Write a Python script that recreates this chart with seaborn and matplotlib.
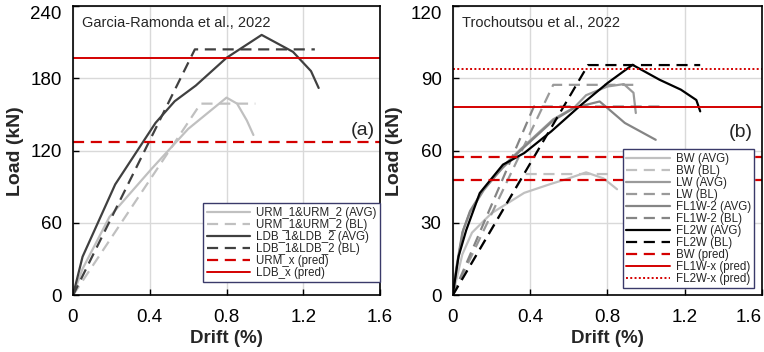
import matplotlib
matplotlib.use("Agg")
import matplotlib.pyplot as plt
import seaborn as sns
import pandas as pd

sns.set_style("white")
plt.rcParams['font.family'] = ['Liberation Sans', 'DejaVu Sans']

# ---- Panel (a) data: Garcia-Ramonda et al., 2022 ----
urm_avg_x = [0, 0.05, 0.19, 0.41, 0.60, 0.80, 0.855, 0.906, 0.94]
urm_avg_y = [0, 22, 65, 105, 138, 164, 159, 145, 133]
urm_bl_x = [0, 0.665, 0.95]
urm_bl_y = [0, 159, 159]
ldb_avg_x = [0, 0.05, 0.22, 0.43, 0.53, 0.64, 0.80, 0.983, 1.146, 1.24, 1.28]
ldb_avg_y = [0, 32, 92, 143, 161, 174, 197, 216, 202, 186, 172]
ldb_bl_x = [0, 0.635, 1.26]
ldb_bl_y = [0, 204, 204]
urm_pred = 127
ldb_pred = 197

# ---- Panel (b) data: Trochoutsou et al., 2022 ----
bw_avg_x = [0, 0.05, 0.10, 0.20, 0.30, 0.37, 0.50, 0.60, 0.69, 0.78, 0.85]
bw_avg_y = [0, 17, 26, 34, 39, 42.5, 46, 48.5, 51, 48.5, 44]
bw_bl_x = [0, 0.37, 0.82]
bw_bl_y = [0, 50.3, 50.3]
lw_avg_x = [0, 0.02, 0.054, 0.09, 0.16, 0.26, 0.35, 0.52, 0.63, 0.69, 0.80, 0.885, 0.935, 0.947]
lw_avg_y = [0, 11, 27, 34.5, 43.5, 53.5, 60.5, 73, 78, 83, 86.6, 87.6, 84, 75.6]
lw_bl_x = [0, 0.52, 0.95]
lw_bl_y = [0, 87.3, 87.3]
fl1_avg_x = [0, 0.02, 0.05, 0.09, 0.16, 0.26, 0.35, 0.52, 0.63, 0.76, 0.80, 0.89, 1.05]
fl1_avg_y = [0, 12, 26, 35, 44, 53, 60, 72.5, 77.8, 80.4, 77.7, 71.5, 64.5]
fl1_bl_x = [0, 0.42, 1.07]
fl1_bl_y = [0, 78.3, 78.3]
fl2_avg_x = [0, 0.03, 0.07, 0.14, 0.26, 0.37, 0.51, 0.66, 0.80, 0.93, 1.07, 1.18, 1.26, 1.28]
fl2_avg_y = [0, 16, 27, 42.4, 54.2, 59, 68, 78.7, 88, 95.6, 89.4, 85.3, 81, 76.3]
fl2_bl_x = [0, 0.70, 1.28]
fl2_bl_y = [0, 95.5, 95.5]
bw_pred_1 = 57.2
bw_pred_2 = 48.0
fl1w_pred = 78.1
fl2w_pred = 93.8

x_ticks = [0, 0.4, 0.8, 1.2, 1.6]
x_tick_labels = ["0", "0.4", "0.8", "1.2", "1.6"]
y_ticks_a = [0, 60, 120, 180, 240]
y_ticks_b = [0, 30, 60, 90, 120]

RED = "#d40000"

fig = plt.figure(figsize=(7.64, 3.52), dpi=100)
ax1 = fig.add_axes([0.0955, 0.161, 0.402, 0.822])
ax2 = fig.add_axes([0.5925, 0.161, 0.405, 0.822])


def draw(ax, x, y, color, ls, label, lw=1.6):
    df = pd.DataFrame({"x": x, "y": y})
    sns.lineplot(data=df, x="x", y="y", ax=ax, color=color, linestyle=ls,
                 linewidth=lw, label=label, sort=False, estimator=None)


# Panel (a)
draw(ax1, urm_avg_x, urm_avg_y, "#c0c0c0", "-", "URM_1&URM_2 (AVG)")
draw(ax1, urm_bl_x, urm_bl_y, "#c0c0c0", (0, (5, 3)), "URM_1&URM_2 (BL)")
draw(ax1, ldb_avg_x, ldb_avg_y, "#404040", "-", "LDB_1&LDB_2 (AVG)")
draw(ax1, ldb_bl_x, ldb_bl_y, "#404040", (0, (5, 3)), "LDB_1&LDB_2 (BL)")
ax1.axhline(urm_pred, color=RED, ls=(0, (5, 3)), lw=1.6, label="URM_x (pred)")
ax1.axhline(ldb_pred, color=RED, ls="-", lw=1.4, label="LDB_x (pred)")

# Panel (b)
draw(ax2, bw_avg_x, bw_avg_y, "#c0c0c0", "-", "BW (AVG)")
draw(ax2, bw_bl_x, bw_bl_y, "#c0c0c0", (0, (5, 3)), "BW (BL)")
draw(ax2, lw_avg_x, lw_avg_y, "#9a9a9a", "-", "LW (AVG)")
draw(ax2, lw_bl_x, lw_bl_y, "#9a9a9a", (0, (5, 3)), "LW (BL)")
draw(ax2, fl1_avg_x, fl1_avg_y, "#858585", "-", "FL1W-2 (AVG)")
draw(ax2, fl1_bl_x, fl1_bl_y, "#858585", (0, (5, 3)), "FL1W-2 (BL)")
draw(ax2, fl2_avg_x, fl2_avg_y, "#000000", "-", "FL2W (AVG)")
draw(ax2, fl2_bl_x, fl2_bl_y, "#000000", (0, (5, 3)), "FL2W (BL)")
ax2.axhline(bw_pred_1, color=RED, ls=(0, (5, 3)), lw=1.6, label="BW (pred)")
ax2.axhline(bw_pred_2, color=RED, ls=(0, (5, 3)), lw=1.6)
ax2.axhline(fl1w_pred, color=RED, ls="-", lw=1.4, label="FL1W-x (pred)")
ax2.axhline(fl2w_pred, color=RED, ls=(0, (1, 1.2)), lw=1.4, label="FL2W-x (pred)")

for ax, ymax, yt in [(ax1, 240, y_ticks_a), (ax2, 120, y_ticks_b)]:
    ax.set_xlim(0, 1.6)
    ax.set_ylim(0, ymax)
    ax.set_xticks(x_ticks)
    ax.set_xticklabels(x_tick_labels)
    ax.set_yticks(yt)
    ax.grid(True, color="#d9d9d9", lw=1.0)
    ax.set_axisbelow(True)
    for s in ax.spines.values():
        s.set_color("black")
        s.set_linewidth(1.2)
    ax.tick_params(direction="in", length=4, width=1.0, labelsize=13.5, colors="black",
                   bottom=True, left=True)
    ax.tick_params(axis="y", pad=8)
    ax.tick_params(axis="x", pad=10)
    ax.set_xlabel("Drift (%)", fontsize=13.5, fontweight="bold", labelpad=3)
    ax.set_ylabel("Load (kN)", fontsize=14, fontweight="bold", labelpad=5)
    ylabels = ax.get_yticklabels()
    ylabels[-1].set_verticalalignment("top")

xl = ax2.get_xticklabels()
xl[-1].set_horizontalalignment("right")
xl[-1].set_x(1.63)

ax1.text(0.03, 0.965, "Garcia-Ramonda et al., 2022", transform=ax1.transAxes,
         fontsize=10.5, va="top", ha="left")
ax1.text(1.51, 137, "(a)", fontsize=14, ha="center", va="center")
ax2.text(0.03, 0.965, "Trochoutsou et al., 2022", transform=ax2.transAxes,
         fontsize=10.5, va="top", ha="left")
ax2.text(1.49, 67.5, "(b)", fontsize=14, ha="center", va="center")

leg_kw = dict(frameon=True, fancybox=False, fontsize=8.3, handlelength=3.8,
              handletextpad=0.5, labelspacing=0.0, borderpad=0.3,
              borderaxespad=0.0)
l1 = ax1.legend(loc="lower right", bbox_to_anchor=(1.0, 0.045), **leg_kw)
l2 = ax2.legend(loc="lower right", bbox_to_anchor=(0.975, 0.025), **leg_kw)
for lg in (l1, l2):
    lg.get_frame().set_edgecolor("#3a3a6a")
    lg.get_frame().set_linewidth(1.0)
    lg.get_frame().set_facecolor("white")
    lg.get_frame().set_alpha(1.0)

fig.savefig("out.png", dpi=100)
